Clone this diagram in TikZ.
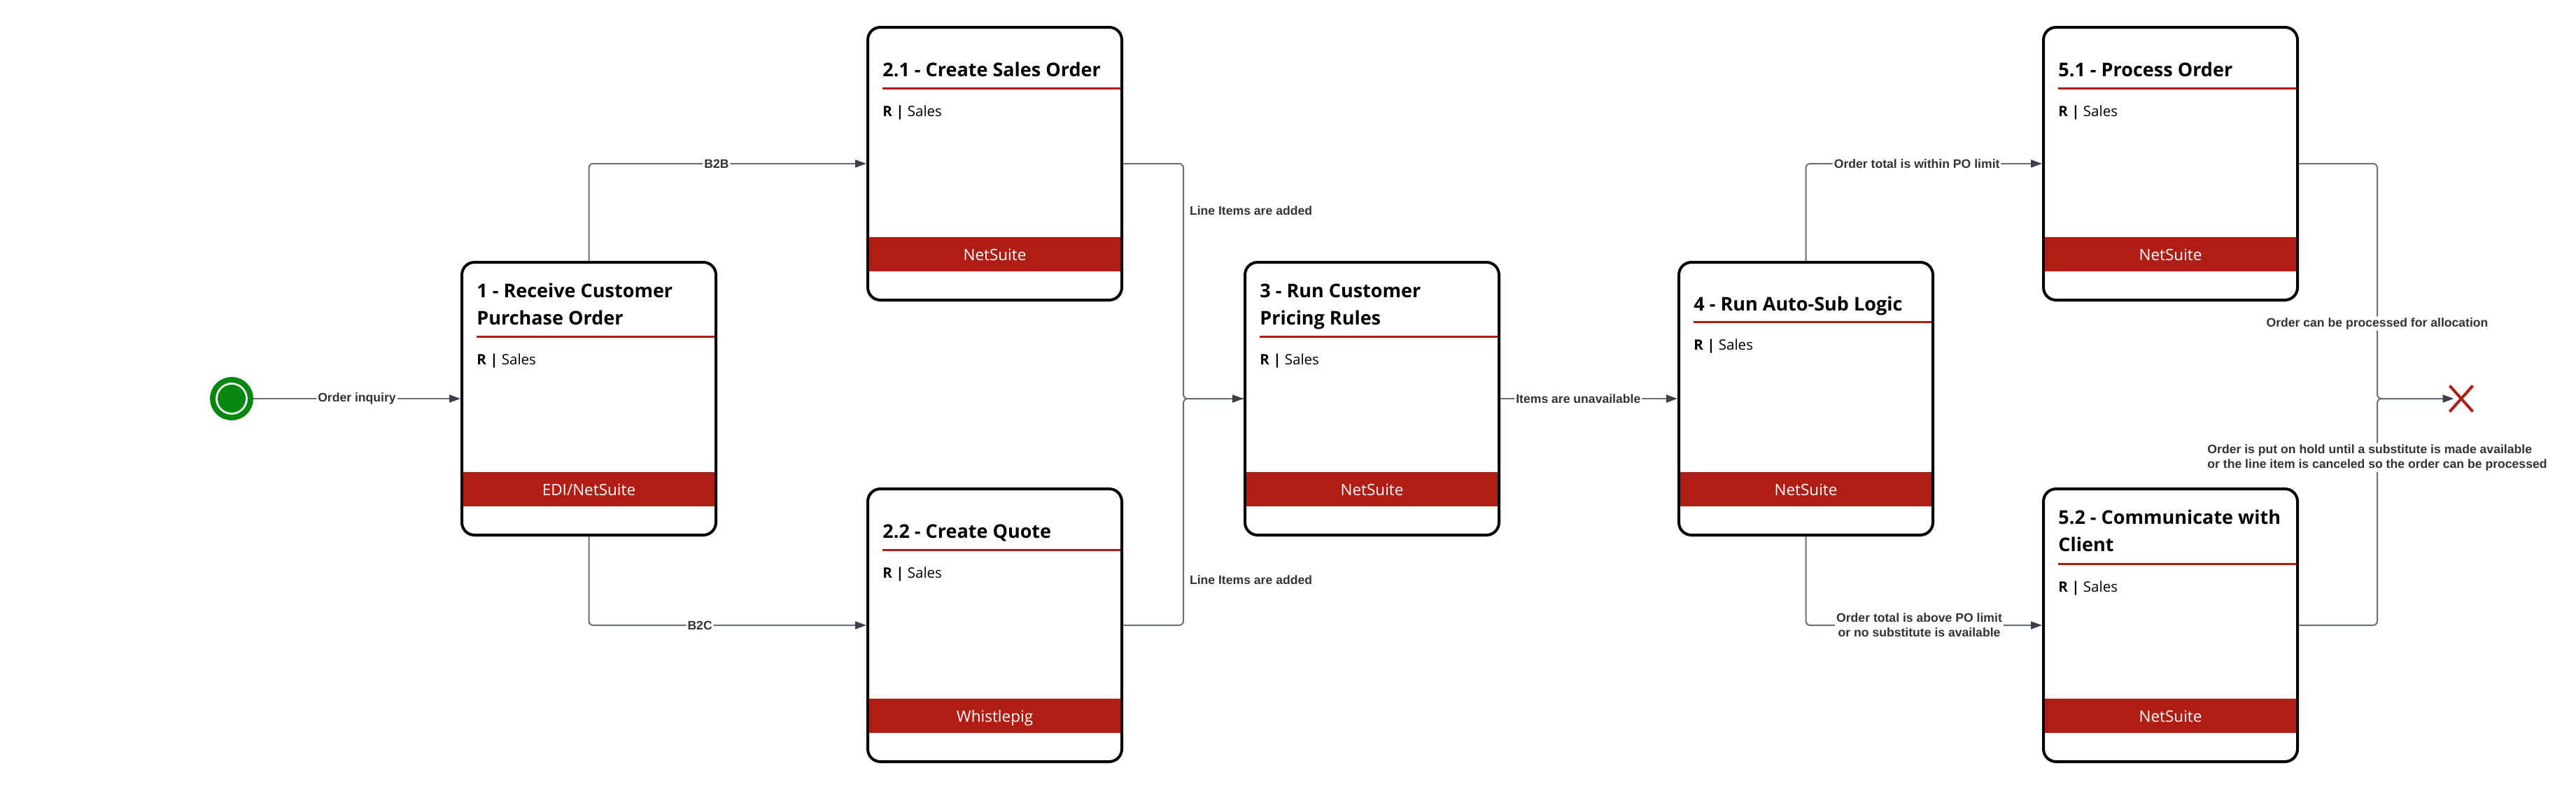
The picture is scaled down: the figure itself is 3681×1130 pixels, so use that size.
\documentclass[tikz,border=0pt]{standalone}
\usepackage{fontspec}
\newfontfamily\osans{Open Sans}
\newfontfamily\lsans{Liberation Sans}
\usetikzlibrary{arrows.meta,shapes.misc,shadows}
\definecolor{nsred}{RGB}{176,29,21}
\definecolor{stgreen}{RGB}{8,135,16}
\definecolor{linec}{RGB}{105,111,120}
\definecolor{arrowc}{RGB}{58,65,76}
\definecolor{labelc}{RGB}{51,51,51}
\tikzset{
  pbox/.style={draw=black, line width=2pt, fill=white, rounded corners=9pt,
    minimum width=181.5pt, minimum height=195pt, inner sep=0pt,
    drop shadow={opacity=0.18, shadow xshift=0pt, shadow yshift=-1.5pt}},
  ttl/.style={anchor=base west, inner sep=0pt, font=\osans\bfseries\fontsize{13.5}{19.75}\selectfont},
  roletxt/.style={anchor=base west, inner sep=0pt, font=\osans\fontsize{10.25}{12}\selectfont},
  systxt/.style={anchor=base, inner sep=0pt, text=white, font=\osans\fontsize{11.25}{13}\selectfont},
  redrule/.style={draw=nsred, line width=1.5pt},
  line/.style={draw=linec, line width=1pt, rounded corners=3pt},
  conn/.style={line, -{Triangle[length=8pt,width=5.5pt,color=arrowc]}},
  lbl/.style={fill=white, inner xsep=1pt, inner ysep=1pt, text=labelc, align=center,
    font=\lsans\bfseries\fontsize{8.8}{10.5}\selectfont},
  sidelbl/.style={anchor=west, inner sep=0pt, xshift=4pt, text=labelc,
    font=\lsans\bfseries\fontsize{8.8}{10.5}\selectfont},
  startev/.style={circle, draw=stgreen, line width=4pt, minimum size=27pt, inner sep=0pt},
  endev/.style={cross out, draw=nsred, line width=2pt, minimum width=14.5pt, minimum height=16.5pt, inner sep=0pt}
}
\newcommand{\procbox}[5]{%
  \node[pbox] (#1) at (#2+181.5,#3+195) {};
  \fill[nsred] (#2+2,#3+300) rectangle (#2+361,#3+349);
  \node[systxt] (#1s) at (#2+181.5,#3+333) {#4};
  \draw[redrule] (#2+21,#3+#5) -- (#2+361,#3+#5);
  \node[roletxt] (#1r) at (#2+21,#3+#5+40) {\textbf{R |} Sales};
}
\begin{document}
\begin{tikzpicture}[x=0.5pt,y=-0.5pt]
\useasboundingbox (0,0) rectangle (3681,1130);

% process boxes
\procbox{b1}{660}{375}{EDI/NetSuite}{106}
\procbox{b21}{1240}{39}{NetSuite}{87}
\procbox{b22}{1240}{699}{Whistlepig}{87}
\procbox{b3}{1779}{375}{NetSuite}{106}
\procbox{b4}{2399}{375}{NetSuite}{85}
\procbox{b51}{2920}{39}{NetSuite}{87}
\procbox{b52}{2920}{699}{NetSuite}{107}

% titles
\node[ttl] (b1t) at (681,425) {1 - Receive Customer};
\node[ttl] (b1u) at (681,464) {Purchase Order};
\node[ttl] (b21t) at (1261,109) {2.1 - Create Sales Order};
\node[ttl] (b22t) at (1261,769) {2.2 - Create Quote};
\node[ttl] (b3t) at (1800,425) {3 - Run Customer};
\node[ttl] (b3u) at (1800,464) {Pricing Rules};
\node[ttl] (b4t) at (2420,444) {4 - Run Auto-Sub Logic};
\node[ttl] (b51t) at (2941,109) {5.1 - Process Order};
\node[ttl] (b52t) at (2941,749) {5.2 - Communicate with};
\node[ttl] (b52u) at (2941,788) {Client};

% events
\node[startev] (start) at (331,570) {};
\fill[stgreen] (start.center) circle[radius=10pt];
\node[endev] (endx) at (3517,570) {};

% junctions
\coordinate (j1) at (1691,570);
\coordinate (j2) at (3397,570);

% connectors
\draw[conn] (start) -- node[lbl]{Order inquiry} (b1);
\draw[conn] (b1.north) |- node[lbl,pos=0.73]{B2B} (b21);
\draw[conn] (b1.south) |- node[lbl,pos=0.70]{B2C} (b22);

\draw[line] (b21.east) -| node[sidelbl,pos=0.6]{Line Items are added} (j1) -- (b3.west);
\draw[conn] (b22.east) -| node[sidelbl,pos=0.6]{Line Items are added} (j1) -- (b3.west);

\draw[conn] (b3) -- node[lbl,pos=0.44]{Items are unavailable} (b4);
\draw[conn] (b4.north) |- node[lbl,pos=0.735]{Order total is within PO limit} (b51);
\draw[conn] (b4.south) |- node[lbl,pos=0.74]{Order total is above PO limit\\or no substitute is available} (b52);

\draw[line] (b51.east) -| node[lbl,pos=0.84]{Order can be processed for allocation} (j2) -- (endx);
\draw[conn, shorten >=-3pt] (b52.east) -| node[lbl,pos=0.87,align=left]{Order is put on hold until a substitute is made available\\or the line item is canceled so the order can be processed} (j2) -- (endx);
\end{tikzpicture}
\end{document}
